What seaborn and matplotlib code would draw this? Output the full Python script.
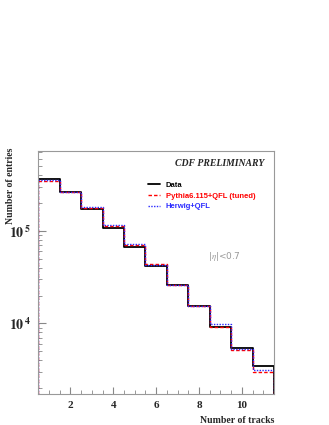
import numpy as np
import pandas as pd
from matplotlib import pyplot as plt
from matplotlib.ticker import MultipleLocator, LogLocator, NullFormatter, FixedLocator
import seaborn as sns

# track multiplicity bins (centres) and entries per sample
tracks = [1, 2, 3, 4, 5, 6, 7, 8, 9, 10, 11]
data_counts = [3.62e5, 2.64e5, 1.70e5, 1.07e5, 6.71e4, 4.19e4, 2.61e4, 1.55e4, 9.2e3, 5.41e3, 3.44e3]
pythia_counts = [3.47e5, 2.64e5, 1.77e5, 1.12e5, 7.0e4, 4.34e4, 2.61e4, 1.55e4, 9.1e3, 5.15e3, 3.0e3]
herwig_counts = [3.50e5, 2.64e5, 1.82e5, 1.16e5, 7.18e4, 4.26e4, 2.61e4, 1.55e4, 9.9e3, 5.24e3, 3.13e3]
series_names = ['Data', 'Pythia6.115+QFL (tuned)', 'Herwig+QFL']

edges = [t - 0.5 for t in tracks] + [tracks[-1] + 0.5]
ylo, yhi = 1.73e3, 7.26e5

sns.set_style('white')
plt.rcParams['mathtext.fontset'] = 'stix'

fig = plt.figure(figsize=(3.29, 4.25), dpi=100)
ax = fig.add_axes([0.1164, 0.0729, 0.7164, 0.5718])

styles = [
    dict(color='black', linestyle='-', linewidth=1.3),
    dict(color='red', linestyle=(0, (2.5, 1.5)), linewidth=1.0),
    dict(color='#2a2aff', linestyle=(0, (1, 1)), linewidth=1.0),
]
for name, counts, st in zip(series_names, [data_counts, pythia_counts, herwig_counts], styles):
    df = pd.DataFrame({'tracks': tracks, 'n': counts})
    sns.histplot(data=df, x='tracks', weights='n', bins=edges, element='step',
                 fill=False, ax=ax, label=name, **st)
    # ROOT-style drop to the frame at both ends
    ax.vlines([edges[0], edges[-1]], ylo, [counts[0], counts[-1]], **st)

ax.set_yscale('log')
ax.set_xlim(edges[0], edges[-1])
ax.set_ylim(ylo, yhi)

# ticks
ax.xaxis.set_major_locator(MultipleLocator(2))
ax.xaxis.set_minor_locator(MultipleLocator(0.5))
ax.yaxis.set_major_locator(FixedLocator([1e4, 1e5]))
ax.yaxis.set_minor_locator(LogLocator(base=10, subs=np.arange(2, 10)))
ax.yaxis.set_minor_formatter(NullFormatter())
ax.set_yticklabels([r'$\mathbf{10^{\,4}}$', r'$\mathbf{10^{\,5}}$'])
ax.set_xticks([2, 4, 6, 8, 10])
ax.set_xticklabels(['2', '4', '6', '8', '10'], family='Liberation Serif', fontweight='bold')
ax.tick_params(axis='both', which='both', direction='in', color='#888888',
               bottom=True, left=True, top=False, right=False, labelsize=8, pad=5)
ax.tick_params(axis='x', which='major', length=5)
ax.tick_params(axis='x', which='minor', length=3)
ax.tick_params(axis='y', which='major', length=6)
ax.tick_params(axis='y', which='minor', length=3)
for tl in ax.get_yticklabels():
    tl.set_fontsize(10)

for sp in ax.spines.values():
    sp.set_color('#999999')
    sp.set_linewidth(0.8)

ax.set_xlabel('Number of tracks', family='Liberation Serif', fontweight='bold', fontsize=7)
ax.xaxis.set_label_coords(1.0, -0.09)
ax.xaxis.label.set_ha('right')
ax.set_ylabel('Number of entries', family='Liberation Serif', fontweight='bold', fontsize=7)
ax.yaxis.set_label_coords(-0.099, 0.856)

ax.text(0.771, 0.947, 'CDF PRELIMINARY', transform=ax.transAxes, ha='center', va='center',
        family='Liberation Serif', fontweight='bold', style='italic', fontsize=7)
ax.text(0.79, 0.564, r'|$\eta$|<0.7', transform=ax.transAxes, ha='center', va='center',
        family='DejaVu Sans', color='#999999', fontsize=6.5)

leg = ax.legend(loc='upper left', bbox_to_anchor=(0.45, 0.89), frameon=False,
                prop={'family': 'Liberation Sans', 'weight': 'bold', 'size': 5.5},
                handlelength=1.5, handletextpad=0.8, labelspacing=0.45, borderpad=0)
for txt, st in zip(leg.get_texts(), styles):
    txt.set_color(st['color'])

plt.savefig('out.png', dpi=100)
